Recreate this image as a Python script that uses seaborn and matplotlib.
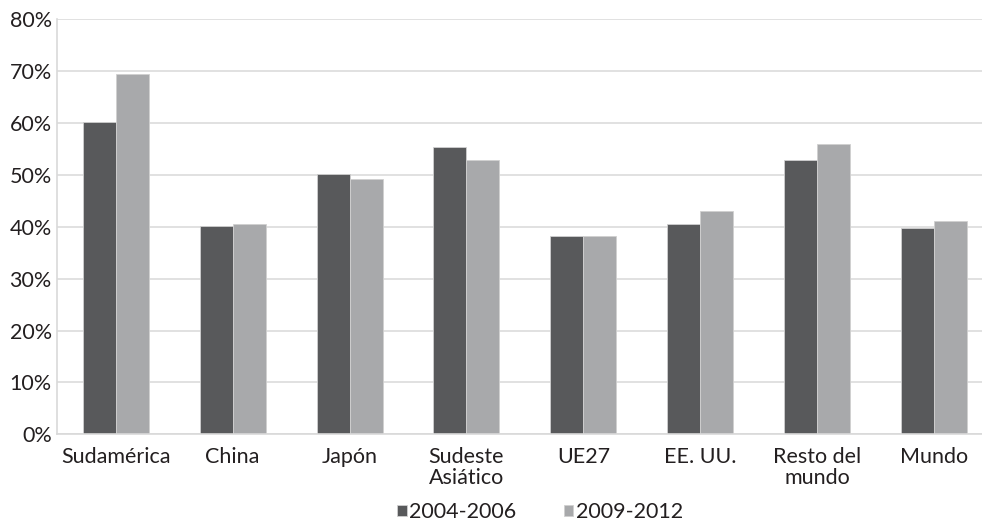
import matplotlib
matplotlib.use("Agg")
import matplotlib.pyplot as plt
import seaborn as sns
import pandas as pd
import numpy as np
from matplotlib.ticker import FuncFormatter, MultipleLocator, FixedLocator

categories = ["Sudamérica", "China", "Japón", "Sudeste\nAsiático", "UE27", "EE. UU.", "Resto del\nmundo", "Mundo"]
series_names = ["2004-2006", "2009-2012"]
vals_2004_2006 = [60.2, 40.2, 50.1, 55.4, 38.2, 40.6, 52.9, 39.8]
vals_2009_2012 = [69.4, 40.6, 49.3, 52.9, 38.2, 43.0, 56.0, 41.2]
colors = ["#58595b", "#a7a9ac"]

df = pd.DataFrame({
    "cat": categories * 2,
    "serie": [series_names[0]] * len(categories) + [series_names[1]] * len(categories),
    "val": vals_2004_2006 + vals_2009_2012,
})

sns.set_style("white")
plt.rcParams["font.family"] = ["Lato", "DejaVu Sans"]

FS = 15.5
fig = plt.figure(figsize=(9.82, 5.25), dpi=100)
W, H = 982, 525
left, right, top, bottom = 57.3, 992.5, 19.3, 434.3
ax = fig.add_axes([left / W, (H - bottom) / H, (right - left) / W, (bottom - top) / H])

sns.barplot(data=df, x="cat", y="val", hue="serie", palette=colors, width=0.565,
            gap=0, ax=ax, edgecolor="#d0d0d0", linewidth=0.6, legend=True)

ax.set_ylim(0, 80)
ax.set_xlim(-0.5, len(categories) - 0.5)
ax.yaxis.set_major_locator(MultipleLocator(10))
ax.yaxis.set_major_formatter(FuncFormatter(lambda v, p: f"{int(v)}%"))
ax.grid(axis="y", color="#dcdcdc", linewidth=1.2)
ax.set_axisbelow(True)
ax.set_xlabel("")
ax.set_ylabel("")

for s in ["top", "right"]:
    ax.spines[s].set_visible(False)
ax.spines["left"].set_color("#d9d9d9")
ax.spines["bottom"].set_color("#d9d9d9")
ax.spines["left"].set_linewidth(1.2)
ax.spines["bottom"].set_linewidth(1.2)

ax.tick_params(axis="x", which="major", length=0, labelsize=FS, colors="#231f20", pad=9)
ax.xaxis.set_minor_locator(FixedLocator(np.arange(-0.5, len(categories), 1.0)))
ax.tick_params(axis="x", which="minor", length=5, color="#d9d9d9", width=1.2)
ax.tick_params(axis="y", length=0, labelsize=FS, colors="#231f20", pad=4)
for lab in ax.get_xticklabels():
    lab.set_linespacing(1.1)

axw = right - left
handles, labels = ax.get_legend_handles_labels()
ax.legend(handles, labels, loc="center", bbox_to_anchor=((540 - left) / axw, -(512 - bottom) / (bottom - top)),
          ncol=2, frameon=False, fontsize=FS, handlelength=0.45, handleheight=0.45,
          handletextpad=0.1, columnspacing=2.2, borderaxespad=0, borderpad=0, labelcolor="#231f20")

fig.savefig("out.png", dpi=100)
